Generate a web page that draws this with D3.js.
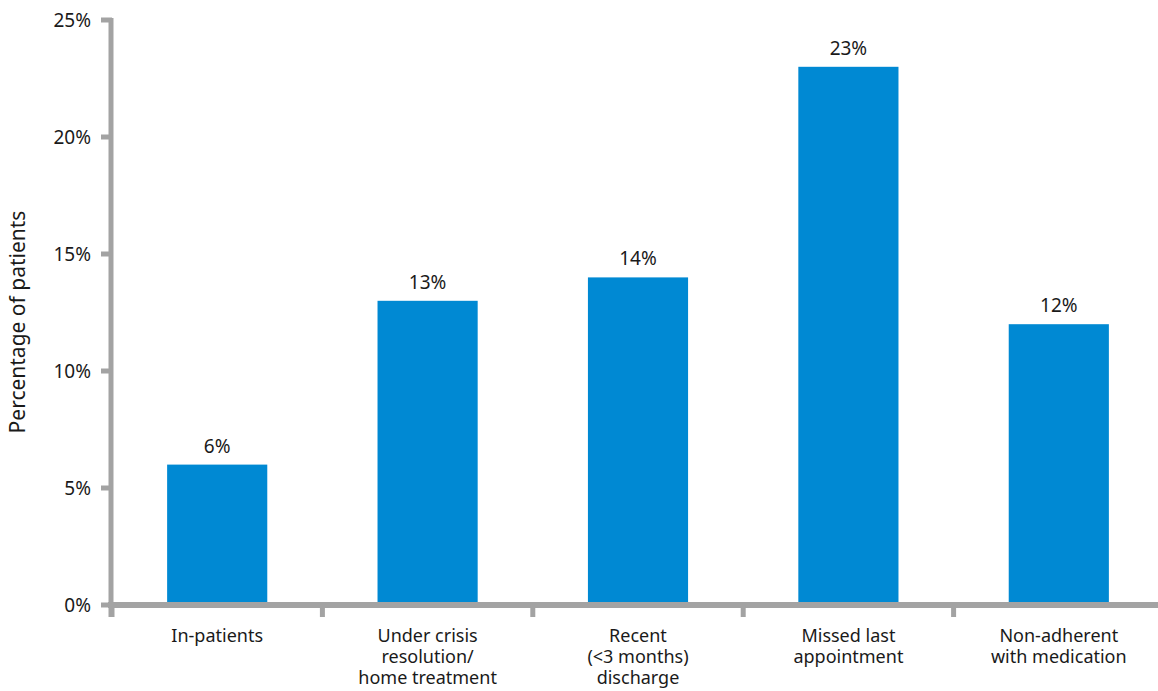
<!DOCTYPE html>
<html><head><meta charset="utf-8">
<script src="https://cdn.jsdelivr.net/npm/d3@7"></script>
<style>body{margin:0;background:#fff}svg{display:block}text{font-family:"Noto Sans",sans-serif;fill:#1a1a1a}</style>
</head><body><svg id="c" width="1158" height="691"></svg>
<script>
const categories = [["In-patients"],["Under crisis","resolution/","home treatment"],["Recent","(<3 months)","discharge"],["Missed last","appointment"],["Non-adherent","with medication"]];
const values = [6, 13, 14, 23, 12];
const yTicks = [0, 5, 10, 15, 20, 25];
const yTitle = "Percentage of patients";

const svg = d3.select("#c");
const x0 = 112, x1 = 1164, yb = 605, yt = 20;
const x = d3.scaleBand().domain(d3.range(values.length)).range([x0, x1]).paddingInner(0.524).paddingOuter(0.262);
const xb = d3.scaleBand().domain(d3.range(values.length)).range([x0, x1]);
const y = d3.scaleLinear().domain([0, 25]).range([yb, yt]);
const grey = "#a3a3a3";

svg.selectAll("rect.bar").data(values).join("rect").attr("class","bar")
  .attr("x",(d,i)=>x(i)).attr("width",x.bandwidth())
  .attr("y",d=>y(d)).attr("height",d=>yb-y(d)).attr("fill","#0089d3");

svg.selectAll("text.val").data(values).join("text").attr("class","val")
  .attr("x",(d,i)=>x(i)+x.bandwidth()/2).attr("y",d=>y(d)-12)
  .attr("text-anchor","middle").attr("font-size",19).text(d=>d+"%");

// y axis
svg.append("line").attr("x1",x0-1).attr("x2",x0-1).attr("y1",yt-2).attr("y2",yb+12).attr("stroke",grey).attr("stroke-width",5);
svg.selectAll("line.yt").data(yTicks).join("line").attr("class","yt")
  .attr("x1",x0-11).attr("x2",x0).attr("y1",d=>y(d)).attr("y2",d=>y(d)).attr("stroke",grey).attr("stroke-width",5);
svg.selectAll("text.yl").data(yTicks).join("text").attr("class","yl")
  .attr("x",x0-21).attr("y",d=>y(d)).attr("dy","0.35em").attr("text-anchor","end").attr("font-size",19).text(d=>d+"%");

// x axis
svg.append("line").attr("x1",x0-4).attr("x2",1158).attr("y1",yb).attr("y2",yb).attr("stroke",grey).attr("stroke-width",6);
svg.selectAll("line.xt").data(d3.range(values.length+1)).join("line").attr("class","xt")
  .attr("x1",i=>i<values.length?xb(i):x1).attr("x2",i=>i<values.length?xb(i):x1)
  .attr("y1",yb).attr("y2",yb+12).attr("stroke",grey).attr("stroke-width",5);

const lab = svg.selectAll("text.xl").data(categories).join("text").attr("class","xl")
  .attr("x",(d,i)=>x(i)+x.bandwidth()/2).attr("y",642).attr("text-anchor","middle").attr("font-size",18);
lab.selectAll("tspan").data(d=>d).join("tspan").attr("x",function(){return this.parentNode.getAttribute("x");})
  .attr("dy",(d,i)=>i?21:0).text(d=>d);

svg.append("text").attr("transform","translate(25,322) rotate(-90)").attr("text-anchor","middle").attr("font-size",21).text(yTitle);
</script></body></html>
